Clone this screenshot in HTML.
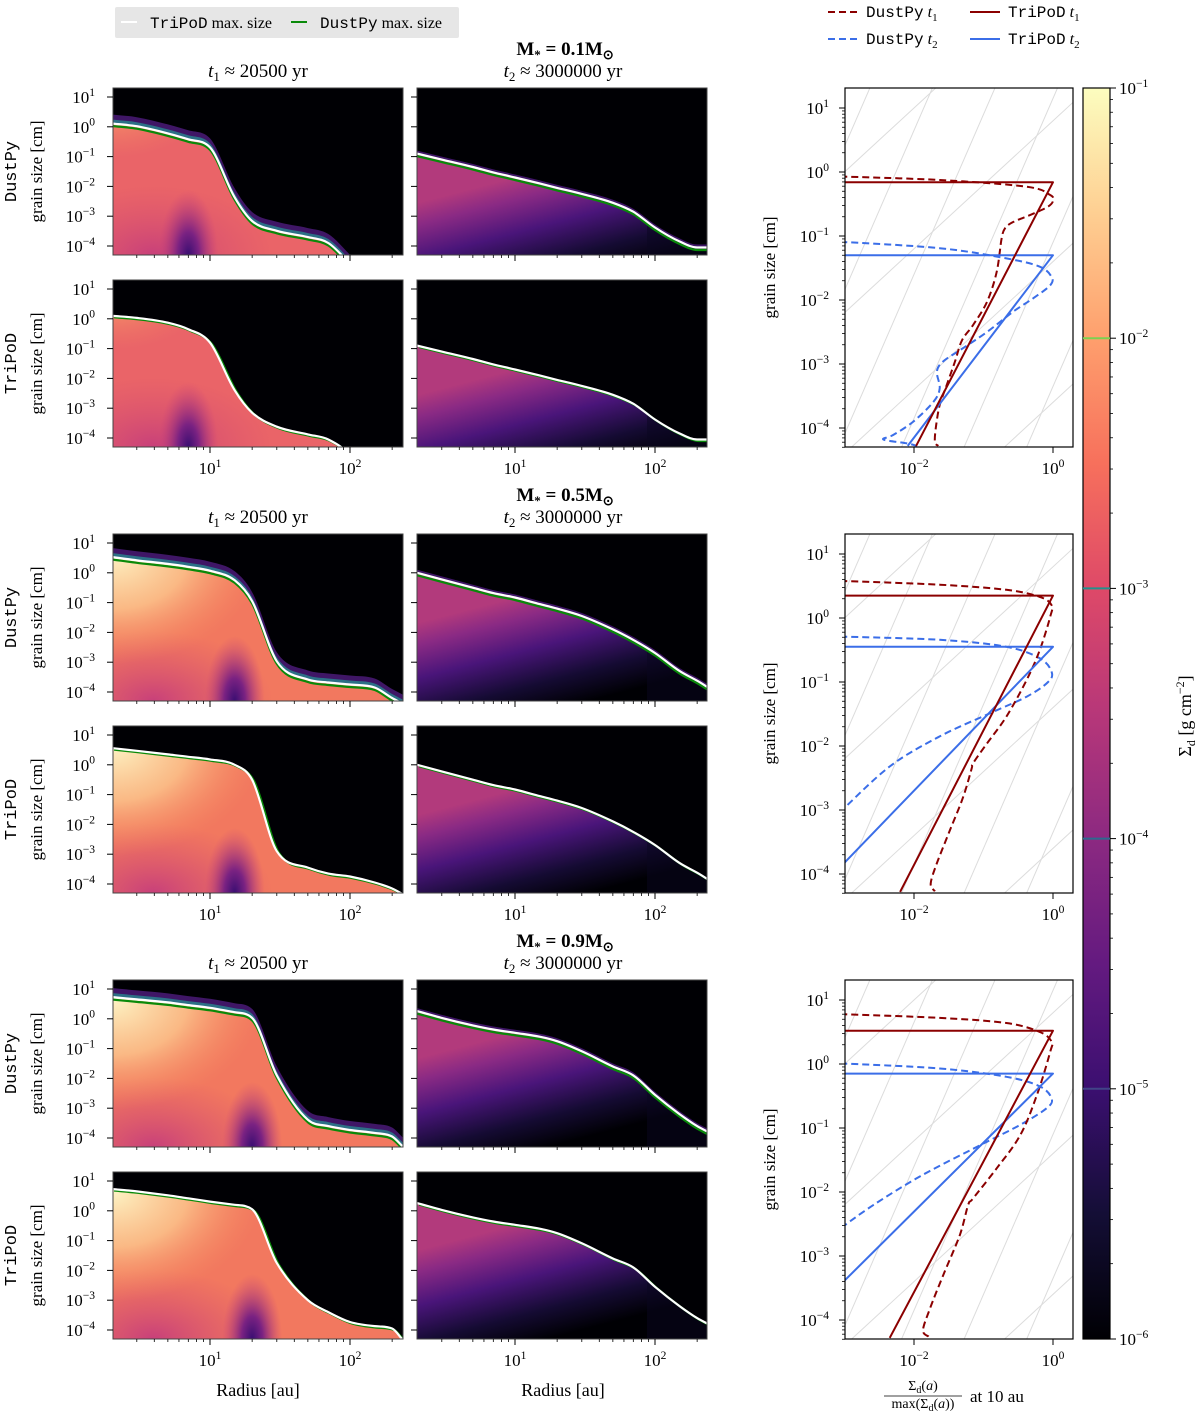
<!DOCTYPE html>
<html><head><meta charset="utf-8"><title>Dust size distributions</title>
<style>
html,body{margin:0;padding:0;background:#fff;width:1200px;height:1420px;overflow:hidden;}
svg{display:block;overflow:hidden;}
text{font-family:"Liberation Serif",serif;fill:#000;}
.mono{font-family:"Liberation Mono",monospace;}
</style></head>
<body>
<svg id="fig" xmlns="http://www.w3.org/2000/svg" width="1200" height="1420" viewBox="0 0 1200 1420">
<defs>
<linearGradient id="magma" x1="0" y1="1" x2="0" y2="0">
<stop offset="0" stop-color="#000004"/><stop offset="0.1" stop-color="#140e36"/><stop offset="0.2" stop-color="#3b0f70"/>
<stop offset="0.3" stop-color="#641a80"/><stop offset="0.4" stop-color="#8c2981"/><stop offset="0.5" stop-color="#b73779"/>
<stop offset="0.6" stop-color="#de4968"/><stop offset="0.7" stop-color="#f7705c"/><stop offset="0.8" stop-color="#fe9f6d"/>
<stop offset="0.9" stop-color="#fecf92"/><stop offset="1" stop-color="#fcfdbf"/>
</linearGradient>
<radialGradient id="yellowGlow"><stop offset="0" stop-color="#fdf3c4"/><stop offset="0.5" stop-color="#fcc98e" stop-opacity="0.8"/><stop offset="1" stop-color="#f7905f" stop-opacity="0"/></radialGradient>
<radialGradient id="orangeGlow"><stop offset="0" stop-color="#f89a6a"/><stop offset="1" stop-color="#f07a62" stop-opacity="0"/></radialGradient>
<radialGradient id="purpleBlob"><stop offset="0" stop-color="#3a0e72"/><stop offset="0.35" stop-color="#7a2282"/><stop offset="1" stop-color="#c8407a" stop-opacity="0"/></radialGradient>
<radialGradient id="pinkLow"><stop offset="0" stop-color="#c8407a"/><stop offset="1" stop-color="#d8506e" stop-opacity="0"/></radialGradient>
</defs>
</svg>
<script>
// ---------- data ----------
const radii = [2, 3, 5, 7, 10, 15, 20, 30, 50, 70, 100, 150, 200, 240];
// log10 of max grain size [cm]
const dp01T1 = [0.11, 0.02, -0.22, -0.42, -0.69, -2.37, -3.16, -3.49, -3.7, -3.9, -4.6, -5.5, -6, -6];
const tp01T1 = [0.10, 0.03, -0.13, -0.35, -0.80, -2.4, -3.15, -3.62, -3.88, -4.05, -4.6, -6, -6, -6];
const all01T2 = [-0.9, -1.1, -1.35, -1.53, -1.7, -1.9, -2.05, -2.25, -2.55, -2.85, -3.38, -3.85, -4.05, -4.05];
const dp05T1 = [0.53, 0.42, 0.30, 0.20, 0.07, -0.25, -0.95, -2.97, -3.58, -3.68, -3.75, -3.85, -4.2, -4.4];
const tp05T1 = [0.56, 0.47, 0.35, 0.27, 0.18, 0.0, -0.5, -2.9, -3.45, -3.65, -3.75, -3.95, -4.15, -4.35];
const all05T2 = [0.0, -0.22, -0.5, -0.68, -0.83, -1.05, -1.2, -1.45, -1.9, -2.25, -2.69, -3.3, -3.62, -3.85];
const dp09T1 = [0.73, 0.65, 0.55, 0.46, 0.37, 0.22, 0.03, -1.9, -3.39, -3.6, -3.73, -3.83, -3.95, -4.3];
const tp09T1 = [0.73, 0.65, 0.52, 0.42, 0.31, 0.2, 0.05, -1.75, -3.0, -3.4, -3.73, -3.87, -3.95, -4.35];
const all09T2 = [0.26, 0.03, -0.22, -0.36, -0.47, -0.6, -0.75, -1.09, -1.6, -1.9, -2.55, -3.2, -3.6, -3.8];
const massLabels = ["0.1", "0.5", "0.9"];
const colorTicks = [-1, -2, -3, -4, -5, -6];
const heatYTicks = [1, 0, -1, -2, -3, -4];
const heatXTicks = [1, 2];
const profYTicks = [1, 0, -1, -2, -3, -4];
const profXTicks = [-2, 0];
// size distributions at 10 au: log10(Sigma/max) and log10(a)
const p1tpT1x = [-3.3, 0, -1.97], p1tpT1a = [-0.16, -0.16, -4.28];
const p1tpT2x = [-3.3, 0, -2.09], p1tpT2a = [-1.30, -1.30, -4.28];
const p1dpT1x = [-3.06, -1.63, -0.38, -0.04, 0.0, -0.07, -0.28, -0.57, -0.69, -0.74, -0.81, -0.95, -1.15, -1.31, -1.41, -1.53, -1.63, -1.68, -1.70, -1.65];
const p1dpT1a = [-0.07, -0.125, -0.23, -0.36, -0.45, -0.54, -0.65, -0.78, -0.88, -1.04, -1.56, -2.03, -2.39, -2.63, -2.96, -3.33, -3.64, -3.95, -4.21, -4.28];
const p1dpT2x = [-3.06, -1.63, -0.67, -0.19, -0.02, -0.04, -0.28, -0.57, -0.95, -1.29, -1.58, -1.67, -1.63, -1.72, -2.01, -2.30, -2.44, -2.10, -1.96];
const p1dpT2a = [-1.09, -1.19, -1.35, -1.48, -1.64, -1.77, -1.97, -2.18, -2.50, -2.75, -2.96, -3.12, -3.38, -3.59, -3.90, -4.11, -4.18, -4.24, -4.28];
const p2tpT1x = [-3.3, 0, -2.20], p2tpT1a = [0.35, 0.35, -4.28];
const p2tpT2x = [-3.3, 0, -3.06], p2tpT2a = [-0.45, -0.45, -3.89];
const p2dpT1x = [-3.06, -1.63, -0.67, -0.19, -0.02, -0.04, -0.19, -0.38, -0.67, -0.95, -1.15, -1.17, -1.29, -1.48, -1.67, -1.76, -1.70];
const p2dpT1a = [0.58, 0.52, 0.44, 0.33, 0.20, 0.02, -0.5, -0.97, -1.54, -1.96, -2.27, -2.35, -2.79, -3.31, -3.83, -4.15, -4.27];
const p2dpT2x = [-3.06, -1.63, -0.67, -0.19, -0.02, -0.07, -0.38, -0.91, -1.63, -2.35, -3.06];
const p2dpT2a = [-0.29, -0.34, -0.45, -0.63, -0.84, -1.0, -1.23, -1.49, -1.85, -2.32, -3.03];
const p3tpT1x = [-3.3, 0, -2.35], p3tpT1a = [0.52, 0.52, -4.28];
const p3tpT2x = [-3.3, 0, -3.06], p3tpT2a = [-0.15, -0.15, -3.45];
const p3dpT1x = [-3.06, -1.63, -0.67, -0.19, -0.02, -0.04, -0.23, -0.47, -0.81, -1.15, -1.22, -1.34, -1.58, -1.77, -1.87, -1.79];
const p3dpT1a = [0.78, 0.72, 0.64, 0.50, 0.35, 0.19, -0.48, -1.11, -1.63, -2.10, -2.20, -2.67, -3.30, -3.82, -4.16, -4.26];
const p3dpT2x = [-3.06, -1.63, -0.67, -0.19, -0.02, -0.09, -0.47, -1.05, -1.87, -2.58, -3.06];
const p3dpT2a = [0.01, -0.07, -0.20, -0.35, -0.54, -0.69, -0.95, -1.27, -1.73, -2.20, -2.57];

// ---------- helpers ----------
const NS = 'http://www.w3.org/2000/svg';
const svg = document.getElementById('fig');
function mk(tag, attrs, parent) {
  const e = document.createElementNS(NS, tag);
  for (const k in attrs) e.setAttribute(k, attrs[k]);
  (parent || svg).appendChild(e);
  return e;
}
function smooth(pts) {
  let d = 'M' + pts[0][0].toFixed(1) + ',' + pts[0][1].toFixed(1);
  for (let i = 0; i < pts.length - 1; i++) {
    const p0 = pts[i - 1] || pts[i], p1 = pts[i], p2 = pts[i + 1], p3 = pts[i + 2] || p2;
    const c1x = p1[0] + (p2[0] - p0[0]) / 6, c1y = p1[1] + (p2[1] - p0[1]) / 6;
    const c2x = p2[0] - (p3[0] - p1[0]) / 6, c2y = p2[1] - (p3[1] - p1[1]) / 6;
    d += ` C${c1x.toFixed(1)},${c1y.toFixed(1)} ${c2x.toFixed(1)},${c2y.toFixed(1)} ${p2[0].toFixed(1)},${p2[1].toFixed(1)}`;
  }
  return d;
}
function monotone(pts) {
  const n = pts.length, dx = [], m = [], t = [];
  for (let i = 0; i < n - 1; i++) { dx.push(pts[i + 1][0] - pts[i][0]); m.push((pts[i + 1][1] - pts[i][1]) / dx[i]); }
  t[0] = m[0]; t[n - 1] = m[n - 2];
  for (let i = 1; i < n - 1; i++) t[i] = (m[i - 1] * m[i] <= 0) ? 0 : (m[i - 1] + m[i]) / 2;
  for (let i = 0; i < n - 1; i++) {
    if (m[i] === 0) { t[i] = 0; t[i + 1] = 0; continue; }
    const a = t[i] / m[i], b = t[i + 1] / m[i], s = a * a + b * b;
    if (s > 9) { const k = 3 / Math.sqrt(s); t[i] = k * a * m[i]; t[i + 1] = k * b * m[i]; }
  }
  let d = 'M' + pts[0][0].toFixed(1) + ',' + pts[0][1].toFixed(1);
  for (let i = 0; i < n - 1; i++) {
    const h = dx[i] / 3;
    d += ` C${(pts[i][0] + h).toFixed(1)},${(pts[i][1] + t[i] * h).toFixed(1)} ${(pts[i + 1][0] - h).toFixed(1)},${(pts[i + 1][1] - t[i + 1] * h).toFixed(1)} ${pts[i + 1][0].toFixed(1)},${pts[i + 1][1].toFixed(1)}`;
  }
  return d;
}
function sup(x, y, base, exp, anchor, size, parent) {
  const t = mk('text', {x: x, y: y, 'text-anchor': anchor, 'font-size': size}, parent);
  const b = mk('tspan', {}, t); b.textContent = base;
  const e = mk('tspan', {dy: -size * 0.42, 'font-size': size * 0.68}, t); e.textContent = exp;
  return t;
}
function minorLogs(lo, hi) {
  const out = [];
  for (let d = Math.floor(lo); d <= Math.ceil(hi); d++)
    for (let m = 2; m <= 9; m++) { const v = d + Math.log10(m); if (v > lo && v < hi) out.push(v); }
  return out;
}

const colX = [113, 417], colW = 290, panH = 167;
const rowTop = [88, 280, 534, 726, 980, 1172];
function xR(col, r) { return (col === 0 ? 210 : 515) + (Math.log10(r) - 1) * 140; }
function yA(top, la) { return top + 9 + (1 - la) * 29.8; }
const profTop = [88, 534, 980], profX = 845, profW = 228, profH = 359;
function xP(lx) { return 914 + (lx + 2) * 69.5; }
function yP(top, la) { return top + 20 + (1 - la) * 64; }

// ---------- legends ----------
const lg = mk('g', {});


const lgBox = mk('rect', {x: 115, y: 7, width: 344, height: 31, fill: '#e6e6e6', rx: 2}, lg);


const lgW = mk('line', {x1: 121, y1: 22, x2: 137, y2: 22, stroke: '#ffffff', 'stroke-width': 2}, lg);


const lgWt = mk('text', {x: 150, y: 28, 'font-size': 16}, lg);


lgWt.innerHTML = '<tspan class="mono">TriPoD</tspan> max. size';
const lgG = mk('line', {x1: 291, y1: 22, x2: 307, y2: 22, stroke: '#0a8a0a', 'stroke-width': 2}, lg);


const lgGt = mk('text', {x: 320, y: 28, 'font-size': 16}, lg);


lgGt.innerHTML = '<tspan class="mono">DustPy</tspan> max. size';

const rl = mk('g', {});


const legEntries = [
  {x: 828, y: 12, c: '#8b0000', dash: '7,4', lab: 'DustPy', s: '1'},
  {x: 970, y: 12, c: '#8b0000', dash: '', lab: 'TriPoD', s: '1'},
  {x: 828, y: 39, c: '#3b6ee8', dash: '7,4', lab: 'DustPy', s: '2'},
  {x: 970, y: 39, c: '#3b6ee8', dash: '', lab: 'TriPoD', s: '2'}];
legEntries.forEach(en => {
  const l = mk('line', {x1: en.x, y1: en.y, x2: en.x + 30, y2: en.y, stroke: en.c, 'stroke-width': 2, 'stroke-dasharray': en.dash}, rl);
  
  
  const t = mk('text', {x: en.x + 38, y: en.y + 5, 'font-size': 16}, rl);
  
  
  t.innerHTML = `<tspan class="mono">${en.lab}</tspan> <tspan font-style="italic">t</tspan><tspan font-size="11" dy="4">${en.s}</tspan>`;
});

// ---------- titles ----------
massLabels.forEach((m, i) => {
  const off = i * 446;
  const mt = mk('text', {x: 565, y: 55 + off, 'text-anchor': 'middle', 'font-size': 19, 'font-weight': 'bold'});
  
  
  mt.innerHTML = `M<tspan font-size="13" dy="4">*</tspan><tspan dy="-4"> = ${m}M</tspan><tspan font-size="13" dy="4">⊙</tspan>`;
  const t1 = mk('text', {x: 258, y: 77 + off, 'text-anchor': 'middle', 'font-size': 19});
  
  
  t1.innerHTML = `<tspan font-style="italic">t</tspan><tspan font-size="13" dy="4">1</tspan><tspan dy="-4"> ≈ 20500 yr</tspan>`;
  const t2 = mk('text', {x: 563, y: 77 + off, 'text-anchor': 'middle', 'font-size': 19});
  
  
  t2.innerHTML = `<tspan font-style="italic">t</tspan><tspan font-size="13" dy="4">2</tspan><tspan dy="-4"> ≈ 3000000 yr</tspan>`;
});

// ---------- heatmaps ----------
const heatSets = [
  {dp: dp01T1, tp: tp01T1, t2: all01T2, bright: false, blobR: 7},
  {dp: dp05T1, tp: tp05T1, t2: all05T2, bright: true, blobR: 15},
  {dp: dp09T1, tp: tp09T1, t2: all09T2, bright: true, blobR: 20}];
let clipId = 0;
function heatPanel(col, top, arr, isT1, isDP, set, showXLabels) {
  const x0 = colX[col];
  const g = mk('g', {});
  
  
  const cid = 'pc' + (clipId++);
  const cp = mk('clipPath', {id: cid}, g);
  mk('rect', {x: x0, y: top, width: colW, height: panH}, cp);
  const inner = mk('g', {'clip-path': `url(#${cid})`}, g);
  const bg = mk('rect', {x: x0, y: top, width: colW, height: panH, fill: '#000004'}, inner);
  
  
  const pts = radii.map((r, i) => [xR(col, r), yA(top, arr[i])]);
  const curve = monotone(pts);
  const under = curve + ` L${pts[pts.length - 1][0] + 20},${top + panH + 40} L${pts[0][0] - 20},${top + panH + 40} L${pts[0][0] - 20},${pts[0][1]} Z`;
  if (isDP) {
    const halo = mk('path', {d: under, fill: '#4a1a78', transform: isT1 ? 'translate(0,-9)' : 'translate(0,-3)', opacity: 0.85}, inner);
    
    
    if (isT1) {
      const halo2 = mk('path', {d: under, fill: '#2a7a8a', transform: 'translate(0,-4)', opacity: 0.9}, inner);
      
      
    }
  }
  const ucid = 'uc' + (clipId++);
  const ucp = mk('clipPath', {id: ucid}, g);
  mk('path', {d: under}, ucp);
  const fillG = mk('g', {'clip-path': `url(#${ucid})`}, inner);
  if (isT1) {
    const base = mk('rect', {x: x0, y: top, width: colW, height: panH, fill: set.bright ? '#f2785f' : '#ea6468'}, fillG);
    
    
    const low = mk('ellipse', {cx: x0 + 40, cy: top + panH, rx: 120, ry: 70, fill: 'url(#pinkLow)'}, fillG);
    
    
    const glow = mk('ellipse', {cx: x0, cy: top + 20, rx: set.bright ? 150 : 90, ry: set.bright ? 110 : 50, fill: set.bright ? 'url(#yellowGlow)' : 'url(#orangeGlow)'}, fillG);
    
    
    const blob = mk('ellipse', {cx: xR(col, set.blobR), cy: top + panH, rx: 30, ry: 65, fill: 'url(#purpleBlob)'}, fillG);
    
    
  } else {
    const gid = 'lg' + (clipId++);
    const i10 = 4;
    const cx = xR(col, radii[i10]), cy = yA(top, arr[i10]);
    const lgd = mk('linearGradient', {id: gid, gradientUnits: 'userSpaceOnUse', x1: cx, y1: cy, x2: cx + 30, y2: cy + 115}, g);
    [[0, '#b23a7c'], [0.18, '#8a2a84'], [0.45, '#4a157a'], [0.75, '#150b33'], [1, '#000004']].forEach(s => mk('stop', {offset: s[0], 'stop-color': s[1]}, lgd));
    const f = mk('path', {d: under, fill: `url(#${gid})`}, fillG);
    
    
    const fade = mk('rect', {x: x0 + colW - 60, y: top, width: 60, height: panH, fill: '#0a0520', opacity: 0.5}, fillG);
    
    
  }
  const green = mk('path', {d: curve, fill: 'none', stroke: '#0a8a0a', 'stroke-width': 2.2, transform: isDP ? 'translate(0,2.5)' : 'translate(2,1.5)'}, inner);
  
  
  const white = mk('path', {d: curve, fill: 'none', stroke: '#ffffff', 'stroke-width': 2.2}, inner);
  
  
  const frame = mk('rect', {x: x0, y: top, width: colW, height: panH, fill: 'none', stroke: '#444', 'stroke-width': 1}, g);
  
  
  heatYTicks.forEach(v => {
    const y = yA(top, v);
    const tk = mk('line', {x1: x0 - 6, y1: y, x2: x0, y2: y, stroke: '#000', 'stroke-width': 1}, g);
    
    
    if (col === 0) {
      const lb = sup(95, y + 6, '10', v < 0 ? '−' + (-v) : String(v), 'end', 17, g);
      
      
    }
  });
  const lo = Math.log10(2.03), hi = Math.log10(240);
  minorLogs(lo, hi).forEach(v => {
    const x = xR(col, Math.pow(10, v));
    const mt = mk('line', {x1: x, y1: top + panH, x2: x, y2: top + panH + 3, stroke: '#000', 'stroke-width': 0.8}, g);
    
    
  });
  heatXTicks.forEach(v => {
    const x = xR(col, Math.pow(10, v));
    const tk = mk('line', {x1: x, y1: top + panH, x2: x, y2: top + panH + 6, stroke: '#000', 'stroke-width': 1}, g);
    
    
    if (showXLabels) {
      const lb = sup(x, top + panH + 27, '10', String(v), 'middle', 17, g);
      
      
    }
  });
}
heatSets.forEach((s, i) => {
  heatPanel(0, rowTop[2 * i], s.dp, true, true, s, false);
  heatPanel(1, rowTop[2 * i], s.t2, false, true, s, false);
  heatPanel(0, rowTop[2 * i + 1], s.tp, true, false, s, true);
  heatPanel(1, rowTop[2 * i + 1], s.t2, false, false, s, true);
  ['DustPy', 'TriPoD'].forEach((code, k) => {
    const cy = rowTop[2 * i + k] + panH / 2;
    const c = mk('text', {x: 0, y: 0, 'font-size': 17, 'text-anchor': 'middle', class: 'mono', transform: `translate(16,${cy}) rotate(-90)`});
    
    
    c.textContent = code;
    const gl = mk('text', {x: 0, y: 0, 'font-size': 17, 'text-anchor': 'middle', transform: `translate(42,${cy}) rotate(-90)`});
    
    
    gl.textContent = 'grain size [cm]';
  });
});
[258, 563].forEach(x => {
  const xl = mk('text', {x: x, y: 1396, 'text-anchor': 'middle', 'font-size': 18});
  
  
  xl.textContent = 'Radius [au]';
});

// ---------- profile panels ----------
const profSets = [
  {tp1x: p1tpT1x, tp1a: p1tpT1a, tp2x: p1tpT2x, tp2a: p1tpT2a, dp1x: p1dpT1x, dp1a: p1dpT1a, dp2x: p1dpT2x, dp2a: p1dpT2a},
  {tp1x: p2tpT1x, tp1a: p2tpT1a, tp2x: p2tpT2x, tp2a: p2tpT2a, dp1x: p2dpT1x, dp1a: p2dpT1a, dp2x: p2dpT2x, dp2a: p2dpT2a},
  {tp1x: p3tpT1x, tp1a: p3tpT1a, tp2x: p3tpT2x, tp2a: p3tpT2a, dp1x: p3dpT1x, dp1a: p3dpT1a, dp2x: p3dpT2x, dp2a: p3dpT2a}];
profSets.forEach((s, i) => {
  const top = profTop[i];
  const g = mk('g', {});
  
  
  const cid = 'pp' + i;
  const cp = mk('clipPath', {id: cid}, g);
  mk('rect', {x: profX, y: top, width: profW, height: profH}, cp);
  const inner = mk('g', {'clip-path': `url(#${cid})`}, g);
  for (let k = -8; k <= 8; k++) {
    const steep = mk('line', {x1: xP(-3.2 + k * 0.9), y1: yP(top, -4.6), x2: xP(-3.2 + k * 0.9 + 2.4), y2: yP(top, 1.4), stroke: '#dcdcdc', 'stroke-width': 1}, inner);
    
    
  }
  for (let k = -4; k <= 4; k++) {
    // shallow guide: a = lx + c, clipped to panel range
    const c0 = 0.8 + k * 2.2;
    const lo = Math.max(-3.1, -4.35 - c0), hi = Math.min(0.3, 1.35 - c0);
    if (lo >= hi) continue;
    const sh = mk('line', {x1: xP(lo), y1: yP(top, lo + c0), x2: xP(hi), y2: yP(top, hi + c0), stroke: '#dcdcdc', 'stroke-width': 1}, inner);
    
    
  }
  const lines = [
    {x: s.dp2x, a: s.dp2a, c: '#3b6ee8', dash: '7,4', n: 'dustpy-t2-curve', sm: true},
    {x: s.dp1x, a: s.dp1a, c: '#8b0000', dash: '7,4', n: 'dustpy-t1-curve', sm: true},
    {x: s.tp2x, a: s.tp2a, c: '#3b6ee8', dash: '', n: 'tripod-t2-line', sm: false},
    {x: s.tp1x, a: s.tp1a, c: '#8b0000', dash: '', n: 'tripod-t1-line', sm: false}];
  lines.forEach(L => {
    const pts = L.x.map((v, j) => [xP(v), yP(top, L.a[j])]);
    const d = L.sm ? smooth(pts) : 'M' + pts.map(p => p[0].toFixed(1) + ',' + p[1].toFixed(1)).join(' L');
    const p = mk('path', {d: d, fill: 'none', stroke: L.c, 'stroke-width': 2, 'stroke-dasharray': L.dash, 'stroke-linejoin': 'round'}, inner);
    
    
  });
  const fr = mk('rect', {x: profX, y: top, width: profW, height: profH, fill: 'none', stroke: '#000', 'stroke-width': 1.2}, g);
  
  
  minorLogs(-4.35, 1.3).forEach(v => {
    const y = yP(top, v);
    const mt = mk('line', {x1: profX - 3, y1: y, x2: profX, y2: y, stroke: '#000', 'stroke-width': 0.8}, g);
    
    
  });
  profYTicks.forEach(v => {
    const y = yP(top, v);
    const tk = mk('line', {x1: profX - 6, y1: y, x2: profX, y2: y, stroke: '#000', 'stroke-width': 1}, g);
    
    
    const lb = sup(829, y + 6, '10', v < 0 ? '−' + (-v) : String(v), 'end', 17, g);
    
    
  });
  profXTicks.forEach(v => {
    const x = xP(v);
    const tk = mk('line', {x1: x, y1: top + profH, x2: x, y2: top + profH + 6, stroke: '#000', 'stroke-width': 1}, g);
    
    
    const lb = sup(x, top + profH + 27, '10', v < 0 ? '−' + (-v) : String(v), 'middle', 17, g);
    
    
  });
  const yt = mk('text', {x: 0, y: 0, 'font-size': 17, 'text-anchor': 'middle', transform: `translate(775,${top + profH / 2}) rotate(-90)`}, g);
  
  
  yt.textContent = 'grain size [cm]';
});
const num = mk('text', {x: 923, y: 1390, 'text-anchor': 'middle', 'font-size': 14});


num.innerHTML = 'Σ<tspan font-size="10" dy="3">d</tspan><tspan dy="-3">(<tspan font-style="italic">a</tspan>)</tspan>';
const bar = mk('line', {x1: 884, y1: 1396, x2: 962, y2: 1396, stroke: '#000', 'stroke-width': 0.8});


const den = mk('text', {x: 923, y: 1408, 'text-anchor': 'middle', 'font-size': 14});


den.innerHTML = 'max(Σ<tspan font-size="10" dy="3">d</tspan><tspan dy="-3">(<tspan font-style="italic">a</tspan>))</tspan>';
const at10 = mk('text', {x: 970, y: 1402, 'font-size': 17});


at10.textContent = 'at 10 au';

// ---------- colorbar ----------
const cbX = 1083, cbY = 88, cbW = 27, cbH = 1251;
function yC(lv) { return cbY + (-1 - lv) / 5 * cbH; }
const cb = mk('rect', {x: cbX, y: cbY, width: cbW, height: cbH, fill: 'url(#magma)', stroke: '#000', 'stroke-width': 1.2});


const contourColors = [['#7ad151', -2], ['#21918c', -3], ['#2c6a8e', -4], ['#414487', -5]];
contourColors.forEach(c => {
  const l = mk('line', {x1: cbX, y1: yC(c[1]), x2: cbX + cbW, y2: yC(c[1]), stroke: c[0], 'stroke-width': 2});
  
  
});
minorLogs(-6, -1).forEach(v => {
  const y = yC(v);
  const mt = mk('line', {x1: cbX + cbW, y1: y, x2: cbX + cbW + 3, y2: y, stroke: '#000', 'stroke-width': 0.8});
  
  
});
colorTicks.forEach(v => {
  const y = yC(v);
  const tk = mk('line', {x1: cbX + cbW, y1: y, x2: cbX + cbW + 6, y2: y, stroke: '#000', 'stroke-width': 1});
  
  
  const lb = sup(1119, y + 6, '10', '−' + (-v), 'start', 17);
  
  
});
const cbl = mk('text', {x: 0, y: 0, 'font-size': 18, 'text-anchor': 'middle', transform: 'translate(1191,716) rotate(-90)'});


cbl.innerHTML = 'Σ<tspan font-size="12" dy="4">d</tspan><tspan dy="-4"> [g cm</tspan><tspan font-size="12" dy="-7">−2</tspan><tspan dy="7">]</tspan>';
</script>
</body></html>
